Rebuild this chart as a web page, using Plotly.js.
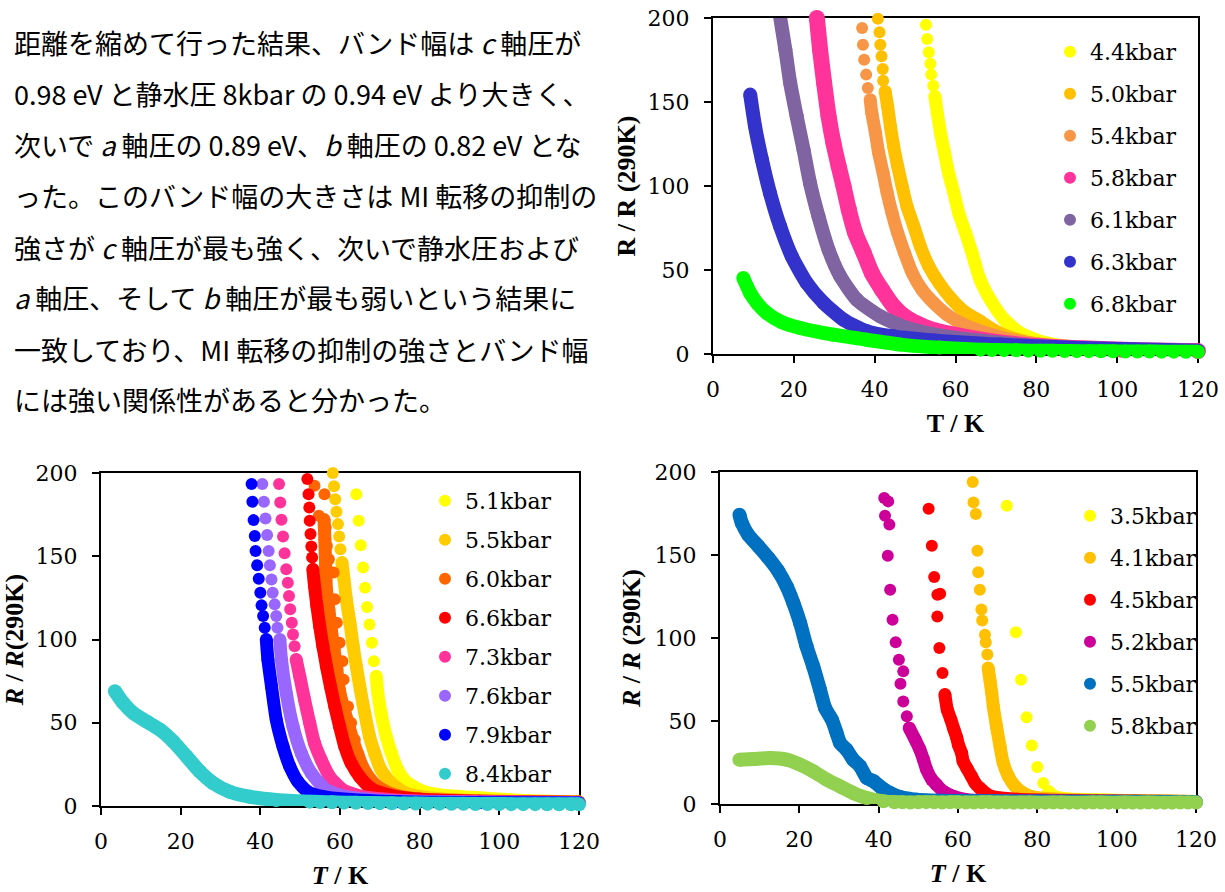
<!DOCTYPE html>
<html lang="en">
<head>
<meta charset="utf-8">
<script src="https://cdn.plot.ly/plotly-3.0.1.min.js"></script>
<style>
html,body{margin:0;padding:0;background:#fff;}
#chart{width:1225px;height:892px;}
</style>
</head>
<body>
<div id="chart"></div>
<script>
// ---------------- paragraph text ----------------
const textLines = [
  '距離を縮めて行った結果、バンド幅は <i>c</i> 軸圧が',
  '0.98 eV と静水圧 8kbar の 0.94 eV より大きく、',
  '次いで <i>a</i> 軸圧の 0.89 eV、<i>b</i> 軸圧の 0.82 eV とな',
  'った。このバンド幅の大きさは MI 転移の抑制の',
  '強さが <i>c</i> 軸圧が最も強く、次いで静水圧および',
  '<i>a</i> 軸圧、そして <i>b</i> 軸圧が最も弱いという結果に',
  '一致しており、MI 転移の抑制の強さとバンド幅',
  'には強い関係性があると分かった。'
];

// ---------------- axis ticks ----------------
const xTicks = [0, 20, 40, 60, 80, 100, 120];
const yTicks = [0, 50, 100, 150, 200];

// ---------------- chart 1 (top right) ----------------
const c1_T_44 = [52.7,53.0,53.4,53.8,54.0,54.5,54.9,55.5,56.3,57.3,58.3,59.6,60.8,62.5,64.1,66.1,69.1,72.1,76.1,81.1,89.1,101,120];
const c1_R_44 = [196,187.5,179.6,172.8,166.3,159.7,153.4,143.5,131.5,119.6,107.7,95.8,83.9,72.0,60.1,44.2,30.4,20.4,12.5,7.5,4.2,2.2,1.6];
const c1_T_50 = [40.8,41.2,41.4,41.7,42.0,42.1,42.6,43.2,43.9,44.7,45.7,46.8,48.0,49.7,51.3,53.4,55.9,58.8,62.1,66.2,70.0,74.1,81.1,91.1,105,120];
const c1_R_50 = [199.6,191.5,184.1,177.2,169.6,162.7,156.3,147.4,135.5,123.6,111.7,99.8,87.9,76.0,64.1,52.2,42.3,33.3,25.4,19.4,13.5,9.5,5.6,3.0,2.2,1.6];
const c1_T_54 = [36.9,37.1,37.4,37.9,38.3,38.9,39.3,40.2,41.0,42.1,43.1,44.3,45.7,47.4,49.3,51.7,54.6,57.9,62.1,69.1,76.1,86.1,100,120];
const c1_R_54 = [194,184.1,175.2,166.3,158.3,151.4,143.5,131.5,119.6,107.7,95.8,83.9,72.0,60.1,48.2,38.3,30.4,23.4,17.5,11.5,7.5,4.6,2.6,1.7];
const c1_T_58 = [25.7,26.5,27.5,28.6,29.8,31.1,32.3,33.6,35.2,37.3,39.3,41.8,44.7,48.0,53.0,59.6,69.1,81.1,101,120];
const c1_R_58 = [200,181,161.3,141.5,125.6,111.7,99.8,85.9,72.0,60.1,48.2,38.3,28.4,21.4,15.5,11.5,7.5,4.6,2.6,1.8];
const c1_T_61 = [16.6,17.9,19.1,20.7,22.4,24.0,26.1,28.6,31.5,35.6,41.4,48.0,56.3,66.0,78.0,95.0,120];
const c1_R_61 = [200.6,181.2,161.3,141.5,121.6,101.8,81.9,62.0,46.2,32.3,22.4,15.5,11.0,8.0,5.0,3.0,1.8];
const c1_T_63 = [9.2,10.4,12.1,14.1,16.6,19.5,23.2,27.4,32.3,38.1,44.7,54.6,71,91,120];
const c1_R_63 = [154.4,135.5,115.7,95.8,76.0,58.1,42.3,30.4,20.4,13.5,10.5,8.1,5.6,3.6,2.0];
const c1_T_68 = [7.5,9.2,11.0,13.3,17.0,21.6,29.8,38.1,46.4,56.0,66.2,69,72,75,78,81,84,87,90,93,96,99,102,105,108,111,114,117,120];
const c1_R_68 = [45.2,36.3,30.0,24.4,19.0,15.5,11.5,8.5,5.6,3.8,2.6,2.4,2.3,2.2,2.0,1.9,1.9,1.8,1.7,1.7,1.6,1.6,1.5,1.5,1.5,1.4,1.4,1.3,1.3];

// ---------------- chart 2 (bottom left) ----------------
const c2_T_51 = [64.1,64.7,65.2,65.8,66.3,66.8,67.4,68.0,68.5,69.1,69.5,70.3,71.6,72.9,74.5,76.6,80.0,85.0,93.3,105,120];
const c2_R_51 = [187.3,171.3,156.6,143.2,131.1,119.5,109.0,98.0,86.9,77.9,67.9,55.8,41.8,31.7,21.7,14.7,9.6,6.6,5.2,3.5,2.5];
const c2_T_55 = [58.2,58.5,58.8,59.1,59.5,59.8,60.1,60.5,61.0,61.6,62.5,63.3,64.1,65.1,66.2,67.4,68.7,70.3,72.9,76.6,81.6,95,120];
const c2_R_55 = [200,192,184.3,176.7,169.3,161.8,154.2,146.2,136.1,124.1,110,96,83.9,69.9,55.8,41.8,31.7,21.7,13.7,7.6,5.2,3.2,2.3];
const c2_T_60 = [53.6,56.1,54.7,56.4,56.7,57.2,58.4,58.7,59.2,59.9,60.6,60.9,62.0,62.8,63.7,64.5,65.8,67.8,
                 56.0,56.2,56.4,56.6,57.2,57.8,58.5,59.2,59.8,60.8,62.0,63.2,64.6,66.0,68.0,70.5,74.0,80,95,120];
const c2_R_60 = [192.4,187.3,174.3,167.3,156.2,148.2,140.2,124.1,110,98,86.9,75.9,59.8,49.8,39.8,31.7,21.7,15.7,
                 172,160,145,130,118,106,94,82,70,60,50,40,30,22,15,10,6.5,4.2,3.0,2.2];
const c2_T_66 = [51.8,52.1,52.3,52.4,52.6,52.8,53.0,53.2,53.6,54.2,54.9,55.7,56.6,57.6,58.7,59.9,61.2,62.8,64.9,67.8,72.4,80,95,120];
const c2_R_66 = [196.4,187.3,179.3,171.3,163.3,155.8,149.2,142.2,132.1,120.1,108,96,83.9,71.9,59.8,47.8,35.7,25.7,17.7,10.6,6.6,4,2.8,2.2];
const c2_T_73 = [44.7,45.0,45.3,45.7,46.1,46.5,46.9,47.2,47.5,47.9,48.2,48.6,49.0,49.9,51.1,52.4,53.6,55.3,57.4,60.8,65.8,75,90,120];
const c2_R_73 = [193.4,182.3,171.9,161.8,151.8,142.2,134.1,126.1,118.1,110,103,96,88,77.9,63.9,49.8,37.8,27.7,17.7,9.6,5.6,3.5,2.6,2];
const c2_T_76 = [40.5,40.9,41.3,41.7,42.1,42.4,42.8,43.1,43.6,44.0,44.3,44.9,45.3,46.5,48.2,50.3,52.8,56.6,61.6,70,85,120];
const c2_R_76 = [193.4,182.7,172.7,162.7,153.2,144.6,136.1,128.1,121.1,114.1,107,100,88,67.9,47.8,31.7,19.7,9.6,5.6,3.5,2.5,2];
const c2_T_79 = [37.8,38.0,38.3,38.6,38.8,39.2,39.6,40.0,40.3,40.7,41.1,41.5,41.9,42.8,44.0,45.7,47.4,49.4,51.9,55.7,61.6,75,95,120];
const c2_R_79 = [193.4,182.7,171.7,162.2,153.2,144.6,136.5,128.1,120.5,114.1,107,100,88,71.9,51.8,35.7,23.7,14.7,8.6,5.6,4,2.5,2,1.8];
const c2_T_84 = [3.5,5.6,8.1,11.4,14.8,18.1,21.5,24.8,28.2,32.3,37.3,44,52.4,55,58,61,64,67,70,73,76,79,82,85,88,91,94,97,100,103,106,109,112,115,118,120];
const c2_R_84 = [68.9,61.8,55.8,50.8,45.8,38.8,29.7,20.7,13.7,8.6,5.6,3.6,2.6,2.4,2.2,2.0,1.9,1.8,1.7,1.6,1.5,1.5,1.4,1.4,1.3,1.3,1.2,1.2,1.2,1.1,1.1,1.1,1.0,1.0,1.0,1.0];

// ---------------- chart 3 (bottom right) ----------------
const c3_T_35 = [72.3,74.6,75.9,77.3,78.6,80.0,81.5,82.8,84.2,88,95,105,120];
const c3_R_35 = [179.7,103.4,74.9,52.2,35.3,22.3,12.7,7.6,4.6,3,2.5,2,1.5];
const c3_T_41 = [63.7,63.9,64.5,64.9,65.1,65.5,65.9,66.1,66.8,67.0,67.4,67.6,68.1,68.5,68.9,69.7,70.6,71.4,72.7,74.4,76.5,79,90,105,120];
const c3_R_41 = [194,181.7,174.7,152.6,139.6,129.1,117.1,110.6,102,97.4,90,81.9,73.9,66.9,58.8,46.8,34.7,24.7,16.7,10.6,6.6,4.2,2.5,2,1.5];
const c3_T_45 = [52.6,53.4,54.0,54.8,55.5,54.8,55.3,56.1,56.7,57.3,58.2,59.0,59.7,60.1,60.9,61.3,62.2,63.4,64.3,65.5,68,75,90,120];
const c3_R_45 = [177.9,155.6,136.7,126.1,126.7,113,94,78.9,65.9,56.8,50.8,44.8,39.8,35.7,30.7,25.7,21.7,16.7,12.7,9.6,5,2.8,2,1.5];
const c3_T_52 = [41.4,42.4,41.6,42.7,42.3,42.9,43.5,44.3,45.1,46.2,45.5,46.2,47.1,47.7,49.2,50.4,51.3,52.1,53.4,54.6,56.3,58.8,62.2,75,95,120];
const c3_R_52 = [184.3,182.3,173.7,168.3,149.6,129.1,111,97.4,86.9,79.9,72.5,61.8,52.8,45.8,38.8,32.7,26.7,20.7,14.7,11.6,7.6,4.6,2.6,2,1.6,1.3];
const c3_T_55 = [4.9,5.5,7.1,9.7,12.2,14.7,16.8,18.5,20.2,21.8,23.5,25.2,26.5,28.2,29.4,30.3,31.9,33.6,35.3,37,38.7,40.8,42.9,45.4,49.6,60,80,100,120];
const c3_R_55 = [174.3,169.3,162.2,155.2,148.2,140.2,131.1,121.1,109,95,82.9,68.9,57.8,50.8,42.8,36.7,32.7,26.7,22.7,15.7,13.7,9.6,6.6,4.2,2.6,1.8,1.5,1.3,1.2];
const c3_T_58 = [4.9,8.4,12.6,16.8,20.2,23.5,26.9,30.3,33.6,37,41.2,
                 44,46,48,50,52,54,56,58,60,62,64,66,68,70,72,74,76,78,80,82,84,86,88,90,92,94,96,98,100,102,104,106,108,110,112,114,116,118,120];
const c3_R_58 = [26.7,27.1,27.7,26.7,23.7,19.7,14.7,10.6,6.6,3.6,1.6,
                 1.0,1.0,0.9,1.0,1.1,1.0,0.9,1.0,1.0,0.9,0.9,1.0,1.0,0.9,0.9,0.8,0.9,0.9,0.8,0.8,0.9,0.9,0.8,0.8,0.8,0.9,0.9,0.8,0.8,0.9,0.8,0.8,0.9,0.8,0.8,0.8,0.9,0.9,0.9];

// ---------------- series styling ----------------
// dots: number of leading points drawn as separate dots; band: index where the dense band starts
const chart1 = [
  {name:'4.4kbar', t:c1_T_44, r:c1_R_44, color:'#FFFF00', dots:7},
  {name:'5.0kbar', t:c1_T_50, r:c1_R_50, color:'#FFC000', dots:7},
  {name:'5.4kbar', t:c1_T_54, r:c1_R_54, color:'#F79646', dots:6},
  {name:'5.8kbar', t:c1_T_58, r:c1_R_58, color:'#FF3399', dots:1, size:16},
  {name:'6.1kbar', t:c1_T_61, r:c1_R_61, color:'#8064A2', dots:1, size:14},
  {name:'6.3kbar', t:c1_T_63, r:c1_R_63, color:'#3333CC', dots:1, size:14},
  {name:'6.8kbar', t:c1_T_68, r:c1_R_68, color:'#00FF00', dots:1, size:14}
];
const chart2 = [
  {name:'5.1kbar', t:c2_T_51, r:c2_R_51, color:'#FFFF00', dots:10},
  {name:'5.5kbar', t:c2_T_55, r:c2_R_55, color:'#FFCC00', dots:8},
  {name:'6.0kbar', t:c2_T_60, r:c2_R_60, color:'#FF6600', dots:18, band:18},
  {name:'6.6kbar', t:c2_T_66, r:c2_R_66, color:'#FF0000', dots:8},
  {name:'7.3kbar', t:c2_T_73, r:c2_R_73, color:'#FF3399', dots:13},
  {name:'7.6kbar', t:c2_T_76, r:c2_R_76, color:'#9966FF', dots:12},
  {name:'7.9kbar', t:c2_T_79, r:c2_R_79, color:'#0000FF', dots:12},
  {name:'8.4kbar', t:c2_T_84, r:c2_R_84, color:'#33CCCC', dots:1, size:14}
];
const chart3 = [
  {name:'3.5kbar', t:c3_T_35, r:c3_R_35, color:'#FFFF00', dots:8},
  {name:'4.1kbar', t:c3_T_41, r:c3_R_41, color:'#FFC000', dots:12},
  {name:'4.5kbar', t:c3_T_45, r:c3_R_45, color:'#FF0000', dots:9},
  {name:'5.2kbar', t:c3_T_52, r:c3_R_52, color:'#CC0099', dots:14},
  {name:'5.5kbar', t:c3_T_55, r:c3_R_55, color:'#0070C0', dots:1, size:14},
  {name:'5.8kbar', t:c3_T_58, r:c3_R_58, color:'#92D050', dots:1, size:14}
];

// ---------------- build ----------------
const W = 1225, H = 892;
const SERIF = 'Liberation Serif, Times New Roman, serif';
const TICKFAM = 'DejaVu Serif, serif';
const TICKSIZE = 22;
const DOT = 12, BAND = 13;
const traces = [];

function addSeries(list, xa, ya, legendId, tag) {
  list.forEach(s => {
    const k = s.dots;
    const j = (s.band !== undefined) ? s.band : k - 1;
    const grp = tag + s.name;
    traces.push({
      type:'scatter', mode:'markers', x:s.t.slice(0, k), y:s.r.slice(0, k),
      name:s.name, legend:legendId, legendgroup:grp, xaxis:xa, yaxis:ya,
      marker:{color:s.color, size:DOT}, cliponaxis:false, hoverinfo:'skip'
    });
    const sz = s.size || BAND;
    traces.push({
      type:'scatter', mode:'lines+markers', x:s.t.slice(j), y:s.r.slice(j),
      name:s.name, legend:legendId, legendgroup:grp, showlegend:false, xaxis:xa, yaxis:ya,
      marker:{color:s.color, size:sz},
      line:{color:s.color, width:sz, shape:'spline', smoothing:0.6},
      cliponaxis:false, hoverinfo:'skip'
    });
  });
}
addSeries(chart1, 'x', 'y', 'legend', 'a');
addSeries(chart2, 'x2', 'y2', 'legend2', 'b');
addSeries(chart3, 'x3', 'y3', 'legend3', 'c');

function dx(a, b) { return [a / W, b / W]; }
function dy(top, bottom) { return [1 - bottom / H, 1 - top / H]; }

function xAxis(domain, anchor, title) {
  return {
    showgrid:false, zeroline:false, showline:true, linecolor:'#000', linewidth:2, mirror:true,
    ticks:'outside', ticklen:7, tickwidth:2, tickcolor:'#000',
    tickfont:{family:TICKFAM, size:TICKSIZE, color:'#000'}, layer:'below traces', fixedrange:true,
    domain:domain, anchor:anchor, range:[0, 120], tickmode:'array', tickvals:xTicks,
    ticklabelstandoff:8,
    title:{text:title, font:{family:SERIF, size:26, color:'#000'}, standoff:12}
  };
}
function yAxis(domain, anchor, title, standoff) {
  return {
    showgrid:false, zeroline:false, showline:true, linecolor:'#000', linewidth:2, mirror:true,
    ticks:'outside', ticklen:7, tickwidth:2, tickcolor:'#000',
    tickfont:{family:TICKFAM, size:TICKSIZE, color:'#000'}, layer:'below traces', fixedrange:true,
    domain:domain, anchor:anchor, range:[0, 200], tickmode:'array', tickvals:yTicks,
    ticklabelstandoff:10,
    title:{text:title, font:{family:SERIF, size:26, color:'#000'}, standoff:standoff}
  };
}
function legendAt(left, top, gap) {
  return {
    x:left / W, y:1 - top / H, xanchor:'left', yanchor:'top',
    font:{family:TICKFAM, size:TICKSIZE, color:'#000'}, bgcolor:'rgba(0,0,0,0)',
    tracegroupgap:gap
  };
}

const annotations = textLines.map((t, i) => ({
  text:t, xref:'paper', yref:'paper', x:12 / W, y:1 - (43 + i * 51) / H,
  xanchor:'left', yanchor:'middle', showarrow:false,
  font:{family:'Noto Sans CJK JP, sans-serif', size:27, color:'#000'}
}));

const layout = {
  width:W, height:H, margin:{l:0, r:0, t:0, b:0},
  paper_bgcolor:'#fff', plot_bgcolor:'rgba(0,0,0,0)',
  font:{family:SERIF, color:'#000'},
  showlegend:true, hovermode:false,
  xaxis:xAxis(dx(713, 1198), 'y', '<b>T / K</b>'),
  yaxis:yAxis(dy(18, 354), 'x', '<b>R / R (290K)</b>', 4),
  xaxis2:xAxis(dx(101, 579), 'y2', '<b><i>T</i> / K</b>'),
  yaxis2:yAxis(dy(473, 806), 'x2', '<b><i>R</i> / <i>R</i>(290K)</b>', 7),
  xaxis3:xAxis(dx(720, 1196), 'y3', '<b><i>T</i> / K</b>'),
  yaxis3:yAxis(dy(472, 804), 'x3', '<b><i>R</i> / <i>R</i> (290K)</b>', 6),
  legend:legendAt(1050, 31, 10.4),
  legend2:legendAt(425, 480, 7.4),
  legend3:legendAt(1070, 495, 10.4),
  annotations:annotations
};

Plotly.newPlot('chart', traces, layout, {displayModeBar:false, staticPlot:true});
</script>
</body>
</html>
